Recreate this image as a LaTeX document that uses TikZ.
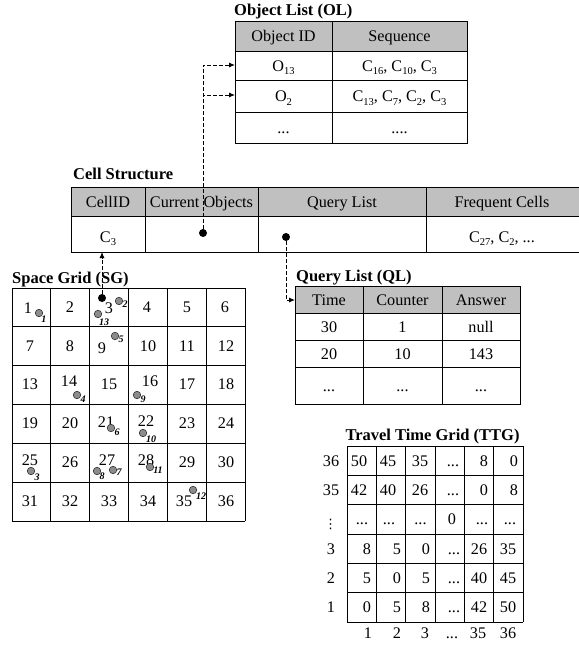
\documentclass[tikz,border=0pt]{standalone}
\usepackage{fontspec}
\setmainfont{Liberation Serif}
\newfontfamily\symfont{DejaVu Sans}
\usetikzlibrary{arrows.meta}
\definecolor{hdr}{RGB}{192,192,192}
\definecolor{objgray}{RGB}{140,140,140}
\newcommand\sbs[1]{\raisebox{-0.22em}{\fontsize{10.5}{10.5}\selectfont #1}}
\newcommand\dd{...}
\tikzset{
  tbl/.style={draw=black, line width=0.9pt},
  txt/.style={font=\fontsize{16.2}{18}\selectfont, inner sep=0pt, anchor=base},
  ttl/.style={font=\fontsize{16.5}{18}\selectfont\bfseries, inner sep=0pt, anchor=base west},
  olab/.style={font=\fontsize{10}{11}\selectfont\itshape\bfseries, inner sep=0pt},
  obj/.style={circle, draw=black!80, fill=objgray, minimum size=7.5pt, inner sep=0pt, line width=0.6pt},
  ptr/.style={circle, fill=black, minimum size=8pt, inner sep=0pt},
  link/.style={dash pattern=on 3.5pt off 2.5pt, line width=0.9pt, -{Latex[length=6pt,width=5pt]}},
}
\begin{document}
\begin{tikzpicture}[x=1pt,y=-1pt]
\useasboundingbox (0,0) rectangle (579,649);

% ---------------- Object List ----------------
\node[ttl] (oltitle) at (234,15.5) {Object List (OL)};
\fill[hdr] (235,21) rectangle (467,51);
\draw[tbl] (235,21) rectangle (467,143);
\draw[tbl] (235,51) -- (467,51) (235,80) -- (467,80) (235,112) -- (467,112) (332,21) -- (332,143);
\node[txt] (olh1) at (283.5,41.5) {Object ID};
\node[txt] (olh2) at (399.5,41.5) {Sequence};
\node[txt] (olr1a) at (283.5,71) {O\sbs{13}};
\node[txt] (olr1b) at (399.5,71) {C\sbs{16}, C\sbs{10}, C\sbs{3}};
\node[txt] (olr2a) at (283.5,101.5) {O\sbs{2}};
\node[txt] (olr2b) at (399.5,101.5) {C\sbs{13}, C\sbs{7}, C\sbs{2}, C\sbs{3}};
\node[txt] (olr3a) at (283.5,133) {\dd};
\node[txt] (olr3b) at (399.5,133) {\dd.};
\coordinate (olin1) at (235,65);
\coordinate (olin2) at (235,95);

% ---------------- Cell Structure ----------------
\node[ttl] (cstitle) at (73,179) {Cell Structure};
\fill[hdr] (71,187) rectangle (582,216);
\draw[tbl] (71,187) rectangle (582,252);
\draw[tbl] (71,216) -- (582,216) (145,187) -- (145,252) (258,187) -- (258,252) (426,187) -- (426,252);
\node[txt] (csh1) at (108,207.5) {CellID};
\node[txt] (csh2) at (201.5,207.5) {Current Objects};
\node[txt] (csh3) at (342,207.5) {Query List};
\node[txt] (csh4) at (502,207.5) {Frequent Cells};
\node[txt] (csc3) at (108,242) {C\sbs{3}};
\node[txt] (csfc) at (502,242) {C\sbs{27}, C\sbs{2}, \dd};
\node[ptr] (codot) at (203,233) {};
\node[ptr] (qldot) at (286,237) {};
\coordinate (c3in) at (102,252);

% ---------------- Space Grid ----------------
\node[ttl] (sgtitle) at (12,283) {Space Grid (SG)};
\foreach \i in {0,1,2,3,4,5,6} {
  \draw[tbl] ({12+38.833*\i},288) -- ({12+38.833*\i},521);
  \draw[tbl] (12,{288+38.833*\i}) -- (245,{288+38.833*\i});
}
\foreach \n/\x/\y in {1/28/308,2/70/307,3/109/308,4/147/307,5/187/307,6/225/307,
  7/30/346,8/70/346,9/102/348,10/148/346,11/187/346,12/226/346,
  13/30/384,14/69/381,15/109/384,16/150/381,17/187/384,18/226/384,
  19/30/423,20/70/423,21/106/422,22/146/421,23/187/423,24/226/423,
  25/30/460,26/70/462,27/107/460,28/146/460,29/187/462,30/226/462,
  31/30/501,32/70/501,33/109/501,34/148/501,35/184/501,36/226/501}
  \node[txt] (sg\n) at (\x,\y+5.5) {\n};
\foreach \n/\cx/\cy/\lx/\ly in {1/39/313/44/319,2/119/301/125/304,13/98/314/104/322,
  5/115/336/121/339,4/77/395/83/399,9/137/395/143/399,6/111/428/117/432,
  10/143/433/151/439,3/31/471/37/477,8/97/471/102/476,7/113/470/119/472,
  11/150/467/158/470,12/193/490/201/496} {
  \node[obj] (ob\n) at (\cx,\cy) {};
  \node[olab] (obl\n) at (\lx,\ly) {\n};
}
\node[ptr] (gdot) at (102,298) {};

% ---------------- Query List ----------------
\node[ttl] (qltitle) at (296,281) {Query List (QL)};
\fill[hdr] (295,286) rectangle (520,313);
\draw[tbl] (295,286) rectangle (520,404);
\draw[tbl] (295,313) -- (520,313) (295,340) -- (520,340) (295,367) -- (520,367) (363,286) -- (363,404) (442,286) -- (442,404);
\foreach \a/\b/\c/\y [count=\k] in {Time/Counter/Answer/305,30/1/null/332,20/10/143/359,\dd/\dd/\dd/391} {
  \node[txt] (ql\k a) at (329,\y) {\a};
  \node[txt] (ql\k b) at (402.5,\y) {\b};
  \node[txt] (ql\k c) at (481,\y) {\c};
}
\coordinate (qlin) at (295,300);

% ---------------- Travel Time Grid ----------------
\node[font=\fontsize{16.5}{18}\selectfont\bfseries, inner sep=0pt, anchor=base] (ttgtitle) at (432.5,440.5) {Travel Time Grid (TTG)};
\foreach \i in {0,1,2,3,4,5,6} {
  \draw[tbl] ({347+29.333*\i},446) -- ({347+29.333*\i},622);
  \draw[tbl] (347,{446+29.333*\i}) -- (523,{446+29.333*\i});
}
\foreach \y/\ta/\tb/\tc/\td/\te/\tf [count=\k] in {
  460.7/50/45/35/\dd/8/0,
  490/42/40/26/\dd/0/8,
  519.3/\dd/\dd/\dd/0/\dd/\dd,
  548.7/8/5/0/\dd/26/35,
  578/5/0/5/\dd/40/45,
  607.3/0/5/8/\dd/42/50} {
  \node[txt] (tt\k a) at ({\k<3 ? 359 : (\k==3 ? 362 : 367)},\y+5.5) {\ta};
  \node[txt] (tt\k b) at ({\k<3 ? 388 : (\k==3 ? 389 : 397)},\y+5.5) {\tb};
  \node[txt] (tt\k c) at ({\k<3 ? 420 : (\k==3 ? 420.5 : 426)},\y+5.5) {\tc};
  \node[txt] (tt\k d) at ({\k<3 ? 453 : (\k==3 ? 452 : 454)},\y+5.5) {\td};
  \node[txt] (tt\k e) at ({\k<3 ? 484 : (\k==3 ? 482 : 479)},\y+5.5) {\te};
  \node[txt] (tt\k f) at ({\k<3 ? 514 : (\k==3 ? 510 : 508)},\y+5.5) {\tf};
}
\foreach \r/\y [count=\k] in {36/460.7,35/490,3/548.7,2/578,1/607.3}
  \node[txt] (trl\k) at (331,\y+5.5) {\r};
\node[inner sep=0pt, font=\symfont\fontsize{13}{14}\selectfont] (trldots) at (330.5,524) {⋮};
\foreach \c/\x [count=\k] in {1/368,2/397,3/425,\dd/452,35/478,36/508}
  \node[txt] (tcl\k) at (\x,638.5) {\c};

% ---------------- connectors ----------------
\draw[link] (codot) |- (olin1);
\draw[link] (codot) |- (olin2);
\draw[link] (qldot) |- (qlin);
\draw[link] (gdot) -- (c3in);
\end{tikzpicture}
\end{document}
